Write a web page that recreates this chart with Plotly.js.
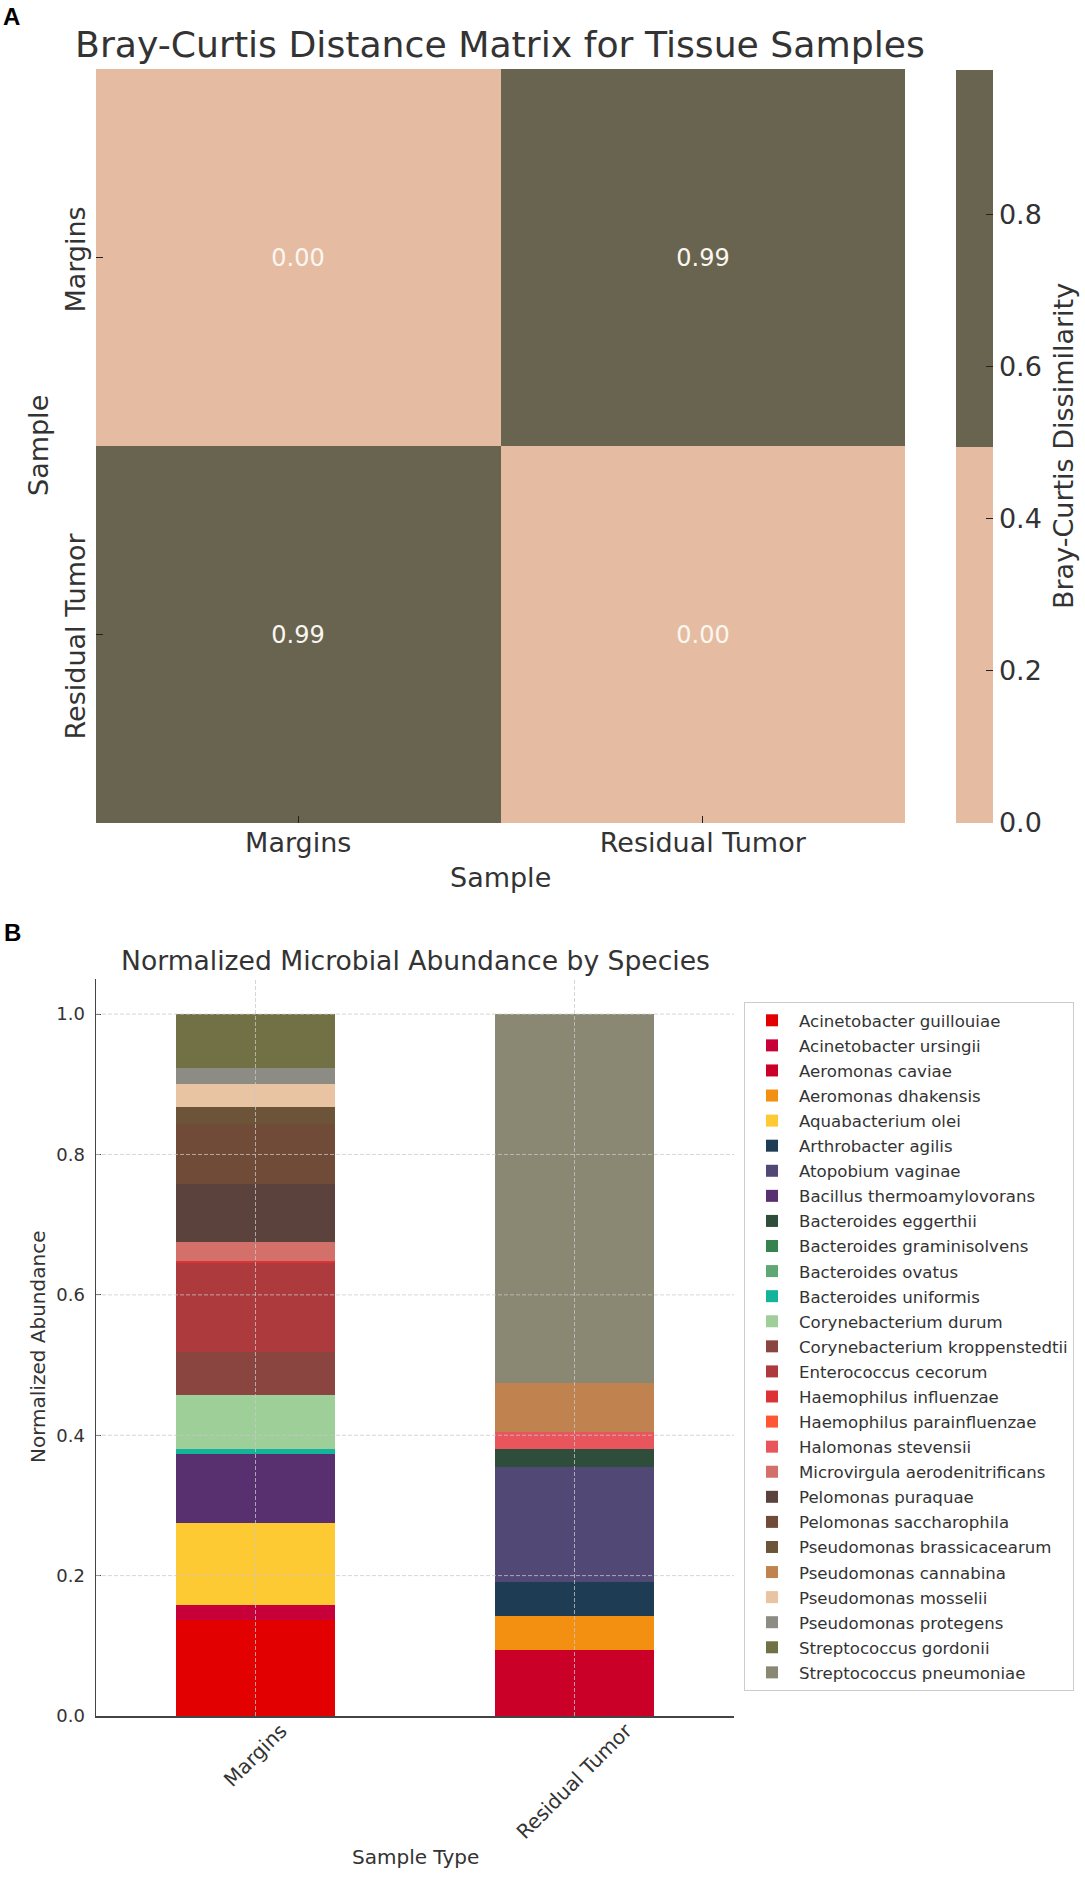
<!DOCTYPE html>
<html><head><meta charset="utf-8">
<script src="https://cdn.plot.ly/plotly-3.0.1.min.js"></script>
<style>html,body{margin:0;padding:0;background:#fff}</style>
</head><body><div id="chart" style="width:1085px;height:1882px"></div>
<script>
// ---------- Data ----------
const samples = ['Margins', 'Residual Tumor'];
const distMargins = [0.00, 0.99];
const distResidual = [0.99, 0.00];
const colorbarTicks = [0, 0.2, 0.4, 0.6, 0.8];

const species = [
  'Acinetobacter guillouiae', 'Acinetobacter ursingii', 'Aeromonas caviae', 'Aeromonas dhakensis',
  'Aquabacterium olei', 'Arthrobacter agilis', 'Atopobium vaginae', 'Bacillus thermoamylovorans',
  'Bacteroides eggerthii', 'Bacteroides graminisolvens', 'Bacteroides ovatus', 'Bacteroides uniformis',
  'Corynebacterium durum', 'Corynebacterium kroppenstedtii', 'Enterococcus cecorum', 'Haemophilus influenzae',
  'Haemophilus parainfluenzae', 'Halomonas stevensii', 'Microvirgula aerodenitrificans', 'Pelomonas puraquae',
  'Pelomonas saccharophila', 'Pseudomonas brassicacearum', 'Pseudomonas cannabina', 'Pseudomonas mosselii',
  'Pseudomonas protegens', 'Streptococcus gordonii', 'Streptococcus pneumoniae'
];
const marginsAbundance = [
  0.1368, 0.0218, 0, 0,
  0.1163, 0, 0, 0.0983,
  0, 0, 0, 0.0071,
  0.0770, 0.0613, 0.1264, 0.0030,
  0, 0, 0.0277, 0.0821,
  0.0851, 0.0246, 0, 0.0332,
  0.0228, 0.0765, 0
];
const residualAbundance = [
  0, 0, 0.0942, 0.0484,
  0, 0.0484, 0.1644, 0,
  0.0246, 0, 0, 0,
  0, 0, 0, 0,
  0, 0.0245, 0, 0,
  0, 0, 0.0703, 0,
  0, 0, 0.5250
];
const speciesColors = [
  '#E30000', '#C70039', '#CB0028', '#F39012',
  '#FDCA33', '#1E3D54', '#524875', '#58306F',
  '#2E4D3B', '#37834F', '#5FA876', '#14B39B',
  '#9FCF98', '#8A4540', '#AD3B3D', '#DC3434',
  '#FF5733', '#E8555C', '#D4706A', '#5C423D',
  '#704C38', '#6B5438', '#C0834F', '#E8C4A2',
  '#8C8C84', '#727045', '#8A8872'
];
const abundanceTicks = [0, 0.2, 0.4, 0.6, 0.8, 1.0];

// ---------- Layout helpers (pixel -> paper) ----------
const W = 1085, H = 1882;
const px = v => v / W;
const py = v => 1 - v / H;
const FONT = 'DejaVu Sans, Verdana, sans-serif';
const TXT = '#333333';
const GRID = 'rgba(200,200,200,0.75)';

const peach = '#E5BCA1', olive = '#686450';

const traces = [];
traces.push({
  type: 'heatmap',
  x: samples, y: samples,
  z: [distMargins, distResidual],
  xaxis: 'x', yaxis: 'y',
  zmin: 0, zmax: 0.99,
  colorscale: [[0, peach], [0.5, peach], [0.5, olive], [1, olive]],
  texttemplate: '%{z:.2f}',
  textfont: {family: FONT, size: 24, color: '#FBF6F0'},
  showscale: true,
  colorbar: {
    x: px(956), xanchor: 'left', xpad: 0,
    y: py(823), yanchor: 'bottom', ypad: 0,
    len: 753, lenmode: 'pixels',
    thickness: 37, thicknessmode: 'pixels',
    outlinewidth: 0,
    tickvals: colorbarTicks, tickformat: '.1f',
    ticks: 'inside', ticklen: 7, tickcolor: '#222',
    tickfont: {family: FONT, size: 27, color: TXT}
  },
  hoverinfo: 'skip'
});

species.forEach((sp, i) => {
  traces.push({
    type: 'bar',
    name: sp,
    x: samples,
    y: [marginsAbundance[i], residualAbundance[i]],
    xaxis: 'x2', yaxis: 'y2',
    width: 0.5,
    marker: {color: speciesColors[i], line: {width: 0}},
    legendgroup: sp
  });
});

const annotations = [
  {text: '<b>A</b>', x: px(1), y: py(17), xanchor: 'left', yanchor: 'middle',
   font: {family: 'Liberation Sans, Arial', size: 24, color: '#000'}},
  {text: '<b>B</b>', x: px(2), y: py(932), xanchor: 'left', yanchor: 'middle',
   font: {family: 'Liberation Sans, Arial', size: 24, color: '#000'}},
  {text: 'Sample', x: px(500), y: py(878), xanchor: 'center', yanchor: 'middle',
   font: {family: FONT, size: 27, color: TXT}},
  {text: 'Sample', x: px(38), y: py(446), xanchor: 'center', yanchor: 'middle', textangle: -90,
   font: {family: FONT, size: 27, color: TXT}},
  {text: 'Bray-Curtis Dissimilarity', x: px(1063), y: py(446), xanchor: 'center', yanchor: 'middle', textangle: -90,
   font: {family: FONT, size: 27, color: TXT}},
  {text: 'Normalized Microbial Abundance by Species', x: px(415), y: py(960), xanchor: 'center', yanchor: 'middle',
   font: {family: FONT, size: 26.6, color: TXT}},
  {text: 'Normalized Abundance', x: px(38), y: py(1347), xanchor: 'center', yanchor: 'middle', textangle: -90,
   font: {family: FONT, size: 20, color: TXT}},
  {text: 'Sample Type', x: px(415), y: py(1857), xanchor: 'center', yanchor: 'middle',
   font: {family: FONT, size: 20, color: TXT}}
];
samples.forEach(s => {
  annotations.push({
    text: s, xref: 'x2', x: s, yref: 'paper', y: py(1716),
    xanchor: 'center', yanchor: 'top', textangle: -45, showarrow: false,
    font: {family: FONT, size: 20, color: TXT}
  });
});
annotations.forEach(a => { a.showarrow = false; if (!a.xref) a.xref = 'paper'; if (!a.yref) a.yref = 'paper'; });

// dashed grid drawn above the bars, as in the reference
const shapes = [];
abundanceTicks.slice(1).forEach(t => {
  shapes.push({type: 'line', layer: 'above', xref: 'x2 domain', x0: 0, x1: 1, yref: 'y2', y0: t, y1: t,
               line: {color: GRID, width: 1, dash: '4px,2px'}});
});
samples.forEach(s => {
  shapes.push({type: 'line', layer: 'above', xref: 'x2', x0: s, x1: s, yref: 'y2 domain', y0: 0, y1: 1,
               line: {color: GRID, width: 1, dash: '4px,2px'}});
});

const layout = {
  width: W, height: H,
  margin: {l: 0, r: 0, t: 0, b: 0, pad: 0},
  paper_bgcolor: '#FFFFFF', plot_bgcolor: '#FFFFFF',
  font: {family: FONT, color: TXT},
  title: {text: 'Bray-Curtis Distance Matrix for Tissue Samples', x: px(500), y: py(44),
          xanchor: 'center', yanchor: 'middle', xref: 'paper', yref: 'container',
          font: {family: FONT, size: 36.2, color: TXT}},
  barmode: 'stack',
  showlegend: true,
  legend: {
    x: px(744), y: py(1002), xanchor: 'left', yanchor: 'top',
    bordercolor: '#CCCCCC', borderwidth: 1, bgcolor: '#FFFFFF',
    font: {family: FONT, size: 16.6, color: TXT},
    traceorder: 'grouped', tracegroupgap: 0.5, itemwidth: 44
  },
  xaxis: {
    domain: [px(96), px(905)], anchor: 'y', type: 'category',
    range: [-0.5, 1.5], showgrid: false, zeroline: false, showline: false,
    ticks: 'inside', ticklen: 7, tickcolor: '#222', ticklabelstandoff: 1,
    tickfont: {family: FONT, size: 27, color: TXT}
  },
  yaxis: {
    domain: [py(823), py(69)], anchor: 'x', type: 'category',
    range: [1.5, -0.5], showgrid: false, zeroline: false, showline: false,
    ticks: 'inside', ticklen: 7, tickcolor: '#222', tickangle: -90, ticklabelstandoff: 5,
    ticklabelshift: -6,
    tickfont: {family: FONT, size: 27, color: TXT}
  },
  xaxis2: {
    domain: [px(96), px(734)], anchor: 'y2', type: 'category',
    range: [-0.5, 1.5], showgrid: false,
    zeroline: false, showline: true, linecolor: '#444444', linewidth: 2,
    ticks: 'inside', ticklen: 5, tickcolor: '#444', showticklabels: false
  },
  yaxis2: {
    domain: [py(1716), py(979)], anchor: 'x2',
    range: [0, 1.05], tickvals: abundanceTicks, tickformat: '.1f',
    showgrid: false,
    zeroline: false, showline: true, linecolor: '#444444', linewidth: 1.5,
    ticks: 'inside', ticklen: 5, tickcolor: '#444', ticklabelstandoff: 6,
    tickfont: {family: FONT, size: 18, color: TXT}
  },
  shapes: shapes,
  annotations: annotations
};

Plotly.newPlot('chart', traces, layout, {displayModeBar: false, staticPlot: true});
</script>
</body></html>
